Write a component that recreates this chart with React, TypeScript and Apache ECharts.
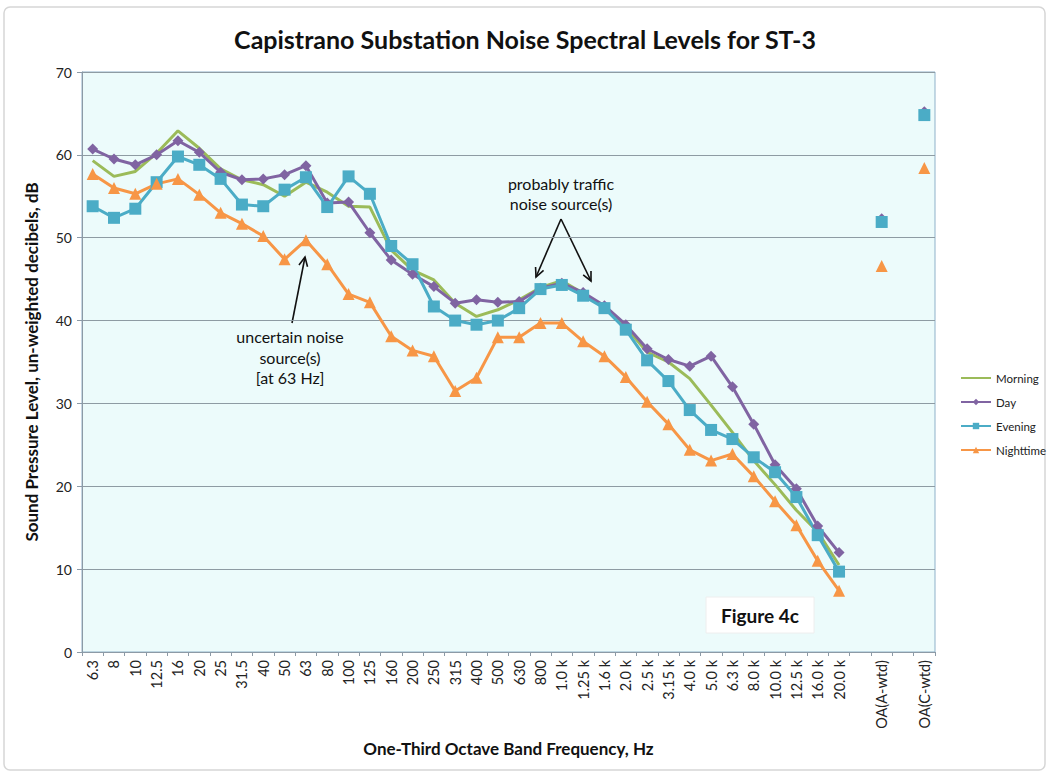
import React, { useEffect, useRef } from "react";
import * as echarts from "echarts";

const categories = [
  "6.3", "8", "10", "12.5", "16", "20", "25", "31.5", "40", "50", "63", "80",
  "100", "125", "160", "200", "250", "315", "400", "500", "630", "800",
  "1.0 k", "1.25 k", "1.6 k", "2.0 k", "2.5 k", "3.15 k", "4.0 k", "5.0 k",
  "6.3 k", "8.0 k", "10.0 k", "12.5 k", "16.0 k", "20.0 k",
  "", "OA(A-wtd)", "", "OA(C-wtd)",
];

const morning = [
  59.3, 57.4, 58.0, 60.2, 62.9, 60.8, 58.3, 57.0, 56.4, 55.0, 56.7, 55.5,
  53.8, 53.7, 48.5, 46.1, 44.9, 42.1, 40.5, 41.3, 42.5, 44.0,
  44.8, 43.3, 41.6, 39.2, 36.2, 35.0, 33.0, 29.8,
  26.5, 23.1, 20.2, 17.1, 14.5, 10.5,
  null, 52.0, null, 65.0,
];
const day = [
  60.7, 59.5, 58.8, 60.0, 61.7, 60.3, 57.9, 57.0, 57.1, 57.6, 58.7, 54.2,
  54.3, 50.6, 47.3, 45.6, 44.1, 42.1, 42.5, 42.2, 42.3, 43.9,
  44.5, 43.4, 41.8, 39.5, 36.6, 35.3, 34.5, 35.7,
  32.0, 27.5, 22.6, 19.7, 15.2, 12.0,
  null, 52.3, null, 65.2,
];
const evening = [
  53.8, 52.4, 53.5, 56.7, 59.8, 58.8, 57.1, 54.0, 53.8, 55.8, 57.3, 53.7,
  57.4, 55.3, 49.0, 46.8, 41.7, 40.0, 39.5, 40.0, 41.5, 43.8,
  44.3, 43.0, 41.5, 38.9, 35.2, 32.7, 29.2, 26.8,
  25.7, 23.5, 21.7, 18.7, 14.1, 9.7,
  null, 51.9, null, 64.8,
];
const nighttime = [
  57.7, 56.0, 55.3, 56.5, 57.1, 55.2, 53.0, 51.7, 50.2, 47.4, 49.7, 46.8,
  43.2, 42.2, 38.1, 36.4, 35.7, 31.5, 33.1, 38.0, 38.0, 39.7,
  39.7, 37.5, 35.7, 33.2, 30.2, 27.5, 24.4, 23.1,
  23.9, 21.2, 18.2, 15.3, 11.0, 7.4,
  null, 46.6, null, 58.4,
];

const yTicks = { min: 0, max: 70, interval: 10 };

const FONT = "Lato, 'Open Sans', sans-serif";

function arrow(x1: number, y1: number, x2: number, y2: number) {
  const ang = Math.atan2(y2 - y1, x2 - x1);
  const len = 10;
  const spread = 0.45;
  const p1 = [x2 - len * Math.cos(ang - spread), y2 - len * Math.sin(ang - spread)];
  const p2 = [x2 - len * Math.cos(ang + spread), y2 - len * Math.sin(ang + spread)];
  return [
    {
      type: "line",
      shape: { x1, y1, x2, y2 },
      style: { stroke: "#111", lineWidth: 1.6 },
    },
    {
      type: "polyline",
      shape: { points: [p1, [x2, y2], p2] },
      style: { stroke: "#111", lineWidth: 1.6, fill: null },
    },
  ];
}

export default function App() {
  const ref = useRef<HTMLDivElement>(null);

  useEffect(() => {
    if (!ref.current) return;
    const chart = echarts.init(ref.current, undefined, { renderer: "svg" });

    const mk = (
      name: string,
      data: (number | null)[],
      color: string,
      symbol: string,
      size: number
    ) => ({
      name,
      type: "line",
      data,
      symbol,
      symbolSize: size,
      showSymbol: symbol !== "none",
      connectNulls: false,
      lineStyle: { color, width: 3 },
      itemStyle: { color },
      emphasis: { disabled: true },
    });

    chart.setOption({
      animation: false,
      backgroundColor: "#ffffff",
      textStyle: { fontFamily: FONT },
      title: {
        text: "Capistrano Substation Noise Spectral Levels for ST-3",
        left: "center",
        top: 21,
        textStyle: { fontFamily: FONT, fontSize: 25, fontWeight: "bold", color: "#111" },
      },
      grid: {
        left: 82,
        right: 115,
        top: 72,
        bottom: 124,
        show: true,
        backgroundColor: "#ecfbfb",
        borderColor: "#8fb1c9",
        borderWidth: 1,
      },
      legend: {
        orient: "vertical",
        left: 955,
        top: 367,
        itemWidth: 30,
        itemHeight: 8,
        itemGap: 12,
        textStyle: { fontFamily: FONT, fontSize: 11.5, color: "#222" },
        data: [
          { name: "Morning", itemStyle: { opacity: 0 } },
          "Day",
          "Evening",
          "Nighttime",
        ],
      },
      xAxis: {
        type: "category",
        data: categories,
        boundaryGap: true,
        name: "One-Third Octave Band Frequency, Hz",
        nameLocation: "middle",
        nameGap: 88,
        nameTextStyle: { fontFamily: FONT, fontSize: 17, fontWeight: "bold", color: "#111" },
        axisLine: { lineStyle: { color: "#8c9aa6", width: 1 } },
        axisTick: { show: true, interval: 0, length: 4, lineStyle: { color: "#8c9aa6" } },
        axisLabel: {
          interval: 0,
          rotate: 90,
          margin: 8,
          fontFamily: FONT,
          fontSize: 14.5,
          color: "#222",
        },
        splitLine: { show: false },
      },
      yAxis: {
        type: "value",
        min: yTicks.min,
        max: yTicks.max,
        interval: yTicks.interval,
        name: "Sound Pressure Level, un-weighted decibels, dB",
        nameLocation: "middle",
        nameRotate: 90,
        nameGap: 42,
        nameTextStyle: { fontFamily: FONT, fontSize: 17, fontWeight: "bold", color: "#111" },
        axisLine: { show: true, lineStyle: { color: "#8c9aa6", width: 1 } },
        axisTick: { show: true, length: 5, lineStyle: { color: "#8c9aa6" } },
        axisLabel: { margin: 10, fontFamily: FONT, fontSize: 14, color: "#222" },
        splitLine: { show: true, lineStyle: { color: "#8e9ba3", width: 1.2 } },
      },
      series: [
        mk("Morning", morning, "#9bbb59", "none", 0),
        mk("Day", day, "#8064a2", "diamond", 11),
        mk("Evening", evening, "#4bacc6", "rect", 12),
        mk("Nighttime", nighttime, "#f79646", "triangle", 12),
      ],
      graphic: [
        {
          type: "rect",
          shape: { x: 4, y: 7, width: 1041, height: 763, r: 6 },
          style: { fill: null, stroke: "#d6d6d6", lineWidth: 1.5 },
          silent: true,
        },
        {
          type: "text",
          x: 561,
          y: 193,
          style: {
            text: "probably traffic\nnoise source(s)",
            fontFamily: FONT,
            fontSize: 16,
            lineHeight: 20,
            fill: "#111",
            align: "center",
            verticalAlign: "middle",
          },
        },
        {
          type: "text",
          x: 290,
          y: 357,
          style: {
            text: "uncertain noise\nsource(s)\n[at 63 Hz]",
            fontFamily: FONT,
            fontSize: 16,
            lineHeight: 20.5,
            fill: "#111",
            align: "center",
            verticalAlign: "middle",
          },
        },
        ...arrow(561, 219, 536, 277),
        ...arrow(561, 219, 591, 281),
        ...arrow(292, 323, 305, 257),
        {
          type: "rect",
          shape: { x: 706, y: 597, width: 108, height: 36 },
          style: { fill: "#ffffff", stroke: "#eeeeee", lineWidth: 1 },
        },
        {
          type: "text",
          x: 760,
          y: 615,
          style: {
            text: "Figure 4c",
            fontFamily: FONT,
            fontSize: 19,
            fontWeight: "bold",
            fill: "#111",
            align: "center",
            verticalAlign: "middle",
          },
        },
      ],
    });

    return () => chart.dispose();
  }, []);

  return (
    <div
      ref={ref}
      style={{ position: "absolute", left: 0, top: 0, width: 1050, height: 776 }}
    />
  );
}
